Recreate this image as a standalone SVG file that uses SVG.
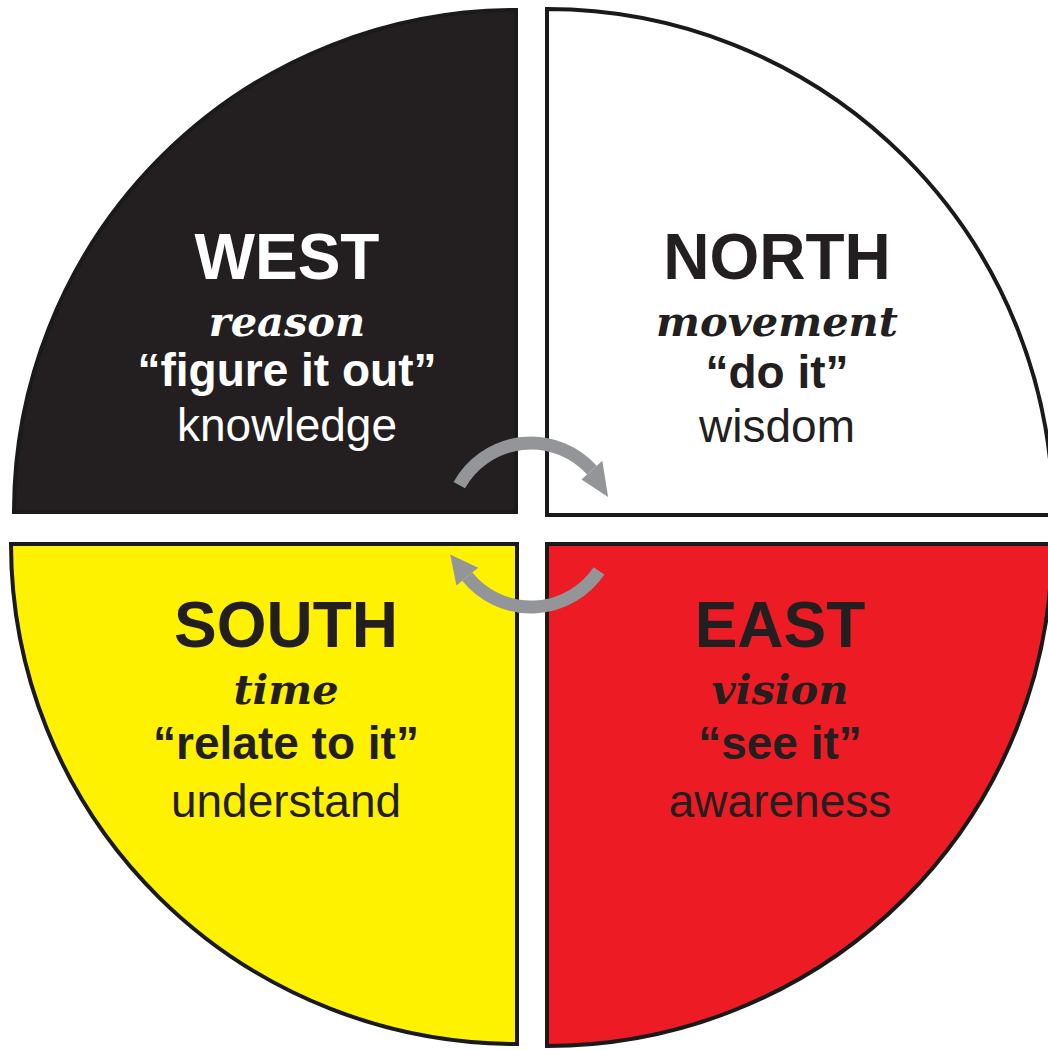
<svg xmlns="http://www.w3.org/2000/svg" width="1048" height="1050" viewBox="0 0 1048 1050">
<style>
.q{stroke:#1a1a1a;stroke-width:4;stroke-linejoin:miter}
.h{font-family:"Liberation Sans",Arial,sans-serif;font-weight:bold;font-size:64px;text-anchor:middle}
.i{font-family:"DejaVu Serif",serif;font-weight:bold;font-style:italic;font-size:41.5px;text-anchor:middle}
.qt{font-family:"Liberation Sans",Arial,sans-serif;font-weight:bold;font-size:46px;text-anchor:middle}
.r{font-family:"Liberation Sans",Arial,sans-serif;font-size:46px;text-anchor:middle}
.arc{fill:none;stroke:#939598;stroke-width:13}
.head{fill:#939598}
</style>
<rect width="1048" height="1050" fill="#ffffff"/>
<g id="west">
<path class="q" d="M516,512 L14,512 A502,502 0 0 1 516,10 Z" fill="#231f20"/>
<g fill="#ffffff">
<text class="h" x="287" y="279">WEST</text>
<text class="i" x="287" y="336">reason</text>
<text class="qt" x="287" y="386">“figure it out”</text>
<text class="r" x="287" y="441">knowledge</text>
</g>
</g>
<g id="north">
<path class="q" d="M547,515 L547,9 A506,506 0 0 1 1053,515 Z" fill="#ffffff"/>
<g fill="#231f20">
<text class="h" x="777" y="279">NORTH</text>
<text class="i" x="777" y="336">movement</text>
<text class="qt" x="777" y="388">“do it”</text>
<text class="r" x="777" y="442">wisdom</text>
</g>
</g>
<g id="south">
<path class="q" d="M517,544 L11,544 A506,500 0 0 0 517,1044 Z" fill="#fff200"/>
<g fill="#231f20">
<text class="h" x="286" y="647">SOUTH</text>
<text class="i" x="286" y="704">time</text>
<text class="qt" x="286" y="759">“relate to it”</text>
<text class="r" x="286" y="817">understand</text>
</g>
</g>
<g id="east">
<path class="q" d="M547,544 L1052,544 A505,502 0 0 1 547,1046 Z" fill="#ed1c24"/>
<g fill="#231f20">
<text class="h" x="780" y="647">EAST</text>
<text class="i" x="780" y="704">vision</text>
<text class="qt" x="780" y="759">“see it”</text>
<text class="r" x="780" y="817">awareness</text>
</g>
</g>
<g id="connectors">
<path class="arc" d="M459.3,485.2 A82,82 0 0 1 591.9,470.1"/>
<polygon class="head" points="581.5,479.5 602.3,460.8 608.1,497.0"/>
<path class="arc" d="M599.0,570.9 A82,82 0 0 1 467.3,576.6"/>
<polygon class="head" points="478.2,567.8 456.4,585.4 450.2,554.4"/>
</g>
</svg>
